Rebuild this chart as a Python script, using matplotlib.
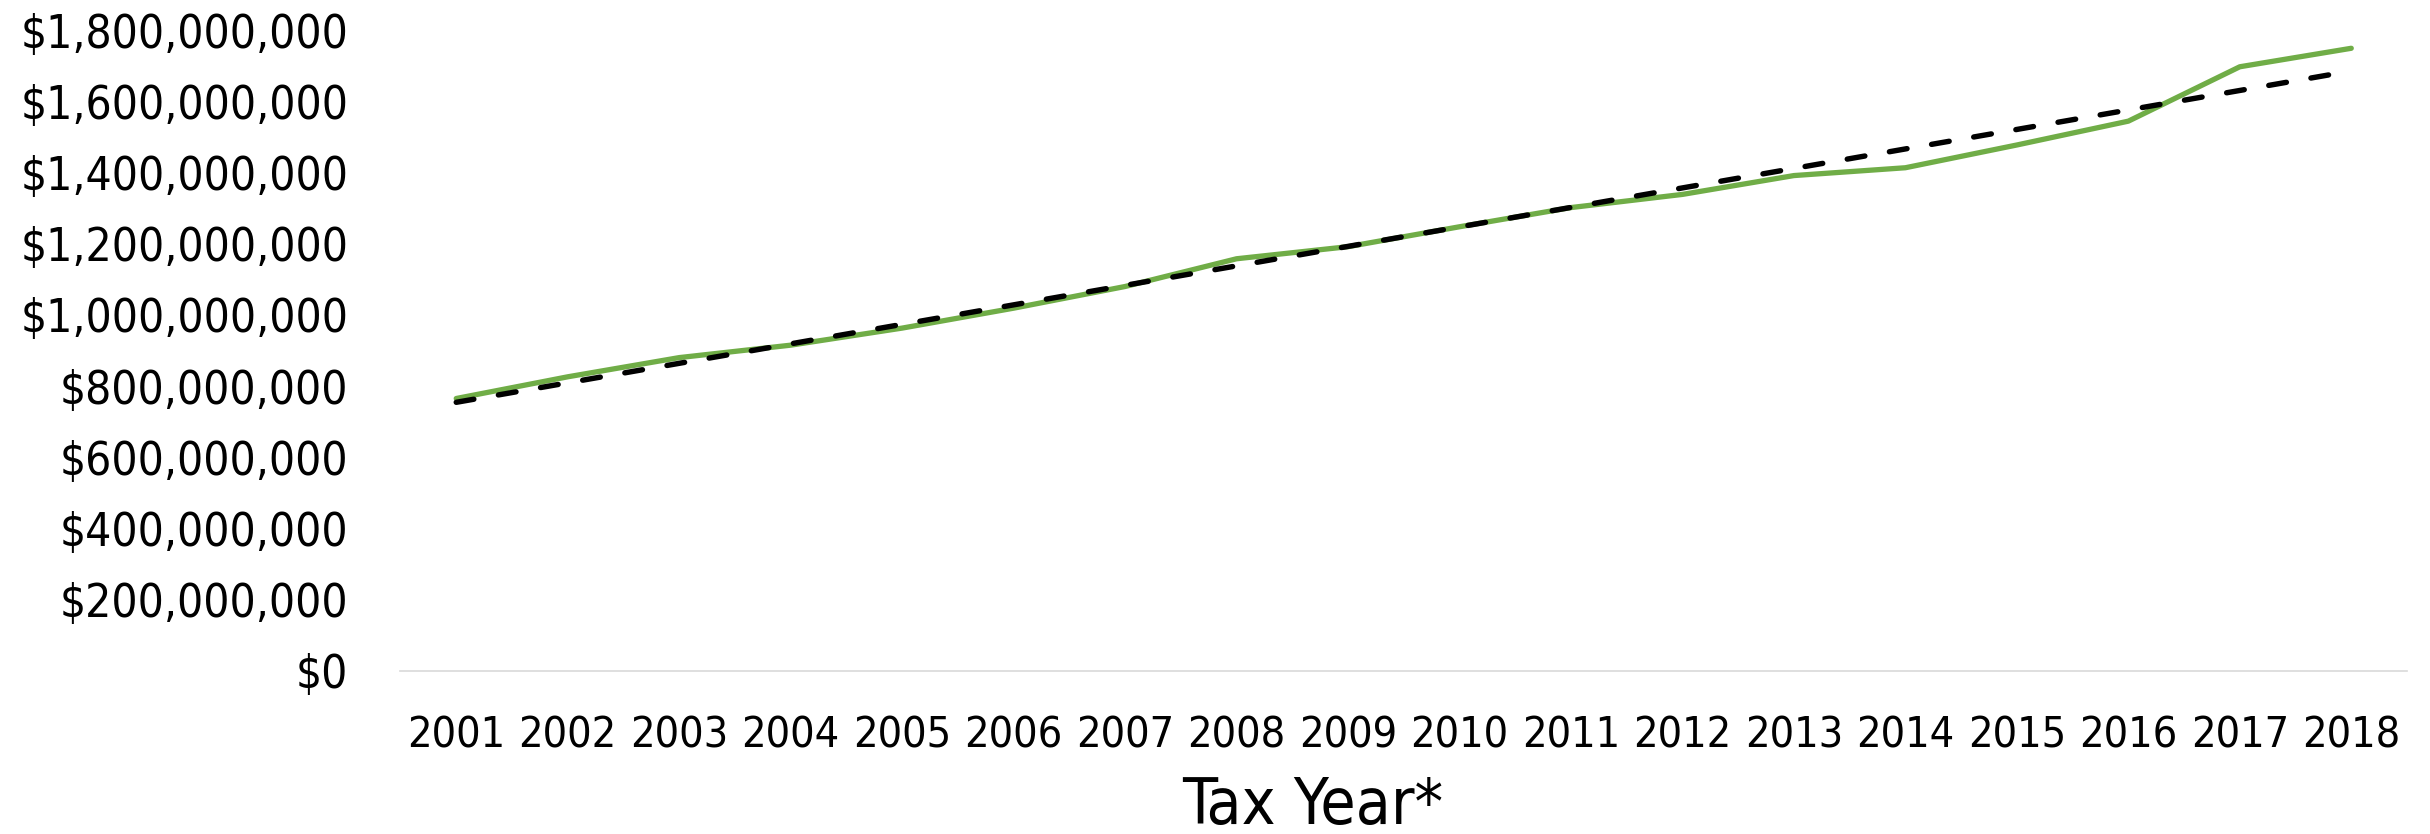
import numpy as np
import matplotlib
matplotlib.use('Agg')
import matplotlib.pyplot as plt
from matplotlib.ticker import FuncFormatter

plt.rcParams['font.family'] = 'DejaVu Sans'
plt.rcParams['font.stretch'] = 'condensed'

# values (dollars)
years = ['2001', '2002', '2003', '2004', '2005', '2006', '2007', '2008', '2009',
         '2010', '2011', '2012', '2013', '2014', '2015', '2016', '2017', '2018']
amounts = [765e6, 826e6, 880e6, 915e6, 963e6, 1019e6, 1080e6, 1158e6, 1192e6,
           1248e6, 1302e6, 1339e6, 1392e6, 1414e6, 1478e6, 1545e6, 1698e6, 1750e6]
y_ticks = [0, 200e6, 400e6, 600e6, 800e6, 1000e6, 1200e6, 1400e6, 1600e6, 1800e6]

x = np.arange(len(years))
# linear trendline, like the Excel one
coef = np.polyfit(x, amounts, 1)
trend = np.polyval(coef, x)

fig = plt.figure(figsize=(24.3, 8.34), dpi=100)
ax = fig.add_axes([400.5/2430, 1 - 670.5/834, (2407 - 400.5)/2430, (670.5 - 30.5)/834])

ax.plot(x, amounts, color='#70AD47', lw=3.8, solid_capstyle='round',
        solid_joinstyle='round', zorder=3)
ax.plot(x, trend, color='black', lw=3.9, dashes=(3.3, 4.6),
        dash_capstyle='round', zorder=4)

ax.set_xlim(-0.5, len(years) - 0.5)
ax.set_ylim(0, 1800e6)
ax.set_xticks(x)
ax.set_xticklabels(years)
ax.set_yticks(y_ticks)
ax.yaxis.set_major_formatter(FuncFormatter(lambda v, p: '${:,.0f}'.format(v)))

for s in ['top', 'right', 'left']:
    ax.spines[s].set_visible(False)
ax.spines['bottom'].set_color('#d9d9d9')
ax.spines['bottom'].set_linewidth(1.2)

ax.tick_params(axis='both', length=0, colors='black')
ax.tick_params(axis='y', pad=37.5, labelsize=33)
ax.tick_params(axis='x', pad=32, labelsize=31)

ax.set_xlabel('Tax Year*', fontsize=46, va='center')
ax.xaxis.set_label_coords(0.4545, -0.2117)

fig.savefig('out.png', dpi=100)
